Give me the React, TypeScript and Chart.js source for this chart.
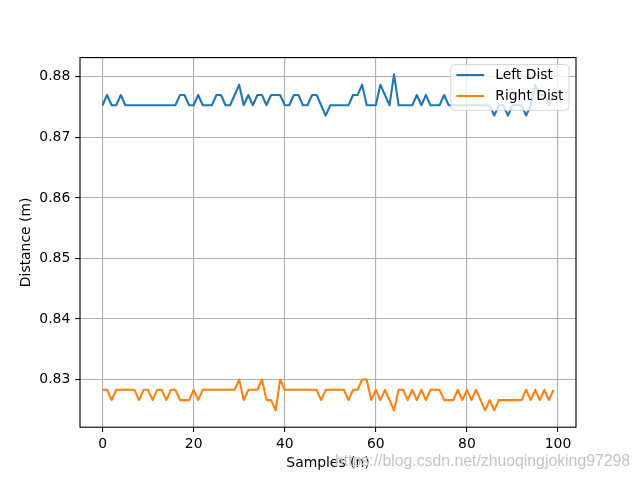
import React, { useEffect, useRef } from "react";
import { Chart, registerables } from "chart.js";

Chart.register(...registerables);

// ---- data ----
const leftDist: number[] = [
  0.8753, 0.877, 0.8753, 0.8753, 0.877, 0.8753, 0.8753, 0.8753, 0.8753, 0.8753,
  0.8753, 0.8753, 0.8753, 0.8753, 0.8753, 0.8753, 0.8753, 0.877, 0.877, 0.8753,
  0.8753, 0.877, 0.8753, 0.8753, 0.8753, 0.877, 0.877, 0.8753, 0.8753, 0.877,
  0.8787, 0.8753, 0.877, 0.8753, 0.877, 0.877, 0.8753, 0.877, 0.877, 0.877,
  0.8753, 0.8753, 0.877, 0.877, 0.8753, 0.8753, 0.877, 0.877, 0.8753, 0.8736,
  0.8753, 0.8753, 0.8753, 0.8753, 0.8753, 0.877, 0.877, 0.8787, 0.8753, 0.8753,
  0.8753, 0.8787, 0.877, 0.8753, 0.8804, 0.8753, 0.8753, 0.8753, 0.8753, 0.877,
  0.8753, 0.877, 0.8753, 0.8753, 0.8753, 0.877, 0.8753, 0.8753, 0.8753, 0.8753,
  0.8753, 0.8753, 0.8753, 0.8753, 0.8753, 0.8753, 0.8736, 0.8753, 0.8753, 0.8736,
  0.8753, 0.8753, 0.8753, 0.8736, 0.8753, 0.8787, 0.877, 0.877, 0.8753, 0.877,
];

const rightDist: number[] = [
  0.8283, 0.8283, 0.8266, 0.8283, 0.8283, 0.8283, 0.8283, 0.8283, 0.8266, 0.8283,
  0.8283, 0.8266, 0.8283, 0.8283, 0.8266, 0.8283, 0.8283, 0.8266, 0.8266, 0.8266,
  0.8283, 0.8266, 0.8283, 0.8283, 0.8283, 0.8283, 0.8283, 0.8283, 0.8283, 0.8283,
  0.83, 0.8266, 0.8283, 0.8283, 0.8283, 0.83, 0.8266, 0.8266, 0.8249, 0.83,
  0.8283, 0.8283, 0.8283, 0.8283, 0.8283, 0.8283, 0.8283, 0.8283, 0.8266, 0.8283,
  0.8283, 0.8283, 0.8283, 0.8283, 0.8266, 0.8283, 0.8283, 0.83, 0.83, 0.8266,
  0.8283, 0.8266, 0.8283, 0.8266, 0.8249, 0.8283, 0.8283, 0.8266, 0.8283, 0.8266,
  0.8283, 0.8266, 0.8283, 0.8283, 0.8283, 0.8266, 0.8266, 0.8266, 0.8283, 0.8266,
  0.8283, 0.8266, 0.8283, 0.8266, 0.8249, 0.8266, 0.8249, 0.8266, 0.8266, 0.8266,
  0.8266, 0.8266, 0.8266, 0.8283, 0.8266, 0.8283, 0.8266, 0.8283, 0.8266, 0.8283,
];

const seriesLabels = ["Left Dist", "Right Dist"];
const xTicks = [0, 20, 40, 60, 80, 100];
const yTicks = [0.83, 0.84, 0.85, 0.86, 0.87, 0.88];
const xLabel = "Samples (n)";
const yLabel = "Distance (m)";
const watermark = "https://blog.csdn.net/zhuoqingjoking97298";

const FONT = '"DejaVu Sans", sans-serif';
const FS = 13.9;

const mplDecor = {
  id: "mplDecor",
  afterDatasetsDraw(chart: any) {
    const { ctx, chartArea } = chart;
    const { left, right, top, bottom } = chartArea;
    ctx.save();
    // spines
    ctx.strokeStyle = "#000";
    ctx.lineWidth = 1.11;
    ctx.strokeRect(left, top, right - left, bottom - top);

    // legend
    ctx.font = `${FS}px ${FONT}`;
    const ds = chart.data.datasets;
    let maxW = 0;
    ds.forEach((d: any) => {
      maxW = Math.max(maxW, ctx.measureText(d.label).width);
    });
    const pad = 5.56;
    const handle = 27.8;
    const hpad = 11.1;
    const w = pad + handle + hpad + maxW + pad;
    const h = 45.8;
    const bx = right - 6.94 - w;
    const by = top + 6.94;
    ctx.beginPath();
    (ctx as any).roundRect(bx, by, w, h, 4);
    ctx.fillStyle = "rgba(255,255,255,0.8)";
    ctx.fill();
    ctx.strokeStyle = "rgba(204,204,204,0.8)";
    ctx.lineWidth = 1.0;
    ctx.stroke();
    ds.forEach((d: any, i: number) => {
      const y = by + 10.5 + i * 21;
      ctx.beginPath();
      ctx.moveTo(bx + pad, y);
      ctx.lineTo(bx + pad + handle, y);
      ctx.strokeStyle = d.borderColor;
      ctx.lineWidth = 2.08;
      ctx.stroke();
      ctx.fillStyle = "#000";
      ctx.textBaseline = "middle";
      ctx.textAlign = "left";
      ctx.fillText(d.label, bx + pad + handle + hpad, y + 0.5);
    });
    ctx.restore();
  },
};

export default function App() {
  const ref = useRef<HTMLCanvasElement | null>(null);
  useEffect(() => {
    if (!ref.current) return;
    const tickFont = { family: FONT, size: FS };
    const chart = new Chart(ref.current, {
      type: "line",
      data: {
        datasets: [
          {
            label: seriesLabels[0],
            data: leftDist.map((v, i) => ({ x: i, y: v })),
            borderColor: "#1f77b4",
            backgroundColor: "#1f77b4",
            borderWidth: 2.08,
            pointRadius: 0,
            tension: 0,
            borderJoinStyle: "round",
          },
          {
            label: seriesLabels[1],
            data: rightDist.map((v, i) => ({ x: i, y: v })),
            borderColor: "#ff7f0e",
            backgroundColor: "#ff7f0e",
            borderWidth: 2.08,
            pointRadius: 0,
            tension: 0,
            borderJoinStyle: "round",
          },
        ],
      },
      options: {
        responsive: false,
        animation: false,
        events: [],
        layout: { padding: { left: 0, right: 64, top: 57.6, bottom: 0 } },
        plugins: { legend: { display: false }, tooltip: { enabled: false } },
        scales: {
          x: {
            type: "linear",
            min: -4.95,
            max: 103.95,
            afterBuildTicks: (s: any) => {
              s.ticks = xTicks.map((v) => ({ value: v }));
            },
            afterFit: (s: any) => {
              s.height = 52.8;
            },
            grid: {
              color: "#b0b0b0",
              lineWidth: 1.11,
              drawTicks: true,
              tickLength: 4.86,
              tickColor: "#000",
              tickWidth: 1.11,
            },
            border: { display: false },
            ticks: {
              color: "#000",
              font: tickFont,
              padding: 3.6,
              maxRotation: 0,
              autoSkip: false,
              callback: (v: any) => String(v),
            },
            title: {
              display: true,
              text: xLabel,
              color: "#000",
              font: tickFont,
              padding: { top: 0, bottom: 8.7 },
            },
          },
          y: {
            type: "linear",
            min: 0.822125,
            max: 0.883175,
            afterBuildTicks: (s: any) => {
              s.ticks = yTicks.map((v) => ({ value: v }));
            },
            afterFit: (s: any) => {
              s.width = 80;
            },
            grid: {
              color: "#b0b0b0",
              lineWidth: 1.11,
              drawTicks: true,
              tickLength: 4.86,
              tickColor: "#000",
              tickWidth: 1.11,
            },
            border: { display: false },
            ticks: {
              color: "#000",
              font: tickFont,
              padding: 4.86,
              autoSkip: false,
              callback: (v: any) => Number(v).toFixed(2),
            },
            title: {
              display: true,
              text: yLabel,
              color: "#000",
              font: tickFont,
              padding: { top: 17.7, bottom: 0 },
            },
          },
        },
      },
      plugins: [mplDecor],
    } as any);
    return () => chart.destroy();
  }, []);

  return (
    <div style={{ position: "absolute", left: 0, top: 0, width: 640, height: 480, background: "#fff" }}>
      <canvas ref={ref} width={640} height={480} style={{ display: "block", width: 640, height: 480 }} />
      <div
        style={{
          position: "absolute",
          left: 335,
          top: 452,
          fontFamily: '"Liberation Sans", Arial, sans-serif',
          fontSize: 15.8,
          color: "rgba(185,185,185,0.85)",
          whiteSpace: "nowrap",
          textShadow: "0 0 1px rgba(255,255,255,0.9)",
          pointerEvents: "none",
        }}
      >
        {watermark}
      </div>
    </div>
  );
}
